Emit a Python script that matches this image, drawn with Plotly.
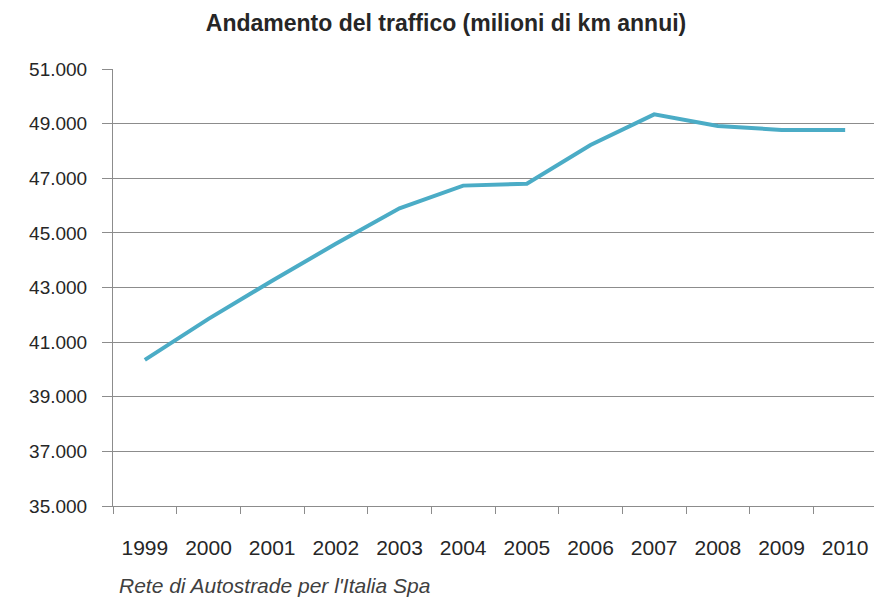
import plotly.graph_objects as go

years = ["1999", "2000", "2001", "2002", "2003", "2004", "2005", "2006", "2007", "2008", "2009", "2010"]
traffic = [40350, 41850, 43250, 44600, 45900, 46730, 46800, 48220, 49340, 48910, 48770, 48770]
y_ticks = [35000, 37000, 39000, 41000, 43000, 45000, 47000, 49000, 51000]

title_text = "Andamento del traffico (milioni di km annui)"
source_text = "Rete di Autostrade per l'Italia Spa"

# the page body adds an 8px offset; figure sized to fill the 882x601 window
W, H = 874, 593
ml, mr, mt, mb = 105, 5, 61, 95
pw, ph = W - ml - mr, H - mt - mb

fig = go.Figure()
fig.add_trace(go.Scatter(
    x=years, y=traffic, mode="lines",
    line=dict(color="#4BACC6", width=4),
    hoverinfo="x+y",
))

font_family = "Liberation Sans, Arial, sans-serif"
fig.update_layout(
    width=W, height=H,
    margin=dict(l=ml, r=mr, t=mt, b=mb, autoexpand=False),
    paper_bgcolor="white", plot_bgcolor="white",
    separators=",.",
    showlegend=False,
    title=dict(
        text="<b>" + title_text + "</b>",
        x=438 / W, xanchor="center", xref="container",
        y=1 - 15 / H, yanchor="middle", yref="container",
        font=dict(family=font_family, size=23, color="#262626"),
    ),
    xaxis=dict(
        type="category",
        range=[-0.5, len(years) - 0.5],
        tickson="boundaries",
        ticks="outside", ticklen=7, tickcolor="#8c8c8c", tickwidth=1,
        showline=True, linecolor="#8c8c8c", linewidth=1,
        showgrid=False, zeroline=False,
        tickfont=dict(family=font_family, size=21, color="#262626"),
        ticklabelstandoff=23,
        automargin=False,
    ),
    yaxis=dict(
        range=[35000, 51000],
        tickvals=y_ticks,
        tickformat=",d",
        ticks="outside", ticklen=10, tickcolor="#8c8c8c", tickwidth=1,
        showline=True, linecolor="#8c8c8c", linewidth=1,
        showgrid=True, gridcolor="#8c8c8c", gridwidth=1,
        zeroline=False,
        tickfont=dict(family=font_family, size=19, color="#262626"),
        ticklabelstandoff=11,
        automargin=False,
    ),
    annotations=[dict(
        text="<i>" + source_text + "</i>",
        xref="paper", yref="paper",
        x=(109 - ml) / pw, y=-(577 - (H - mb)) / ph,
        xanchor="left", yanchor="middle", showarrow=False,
        font=dict(family=font_family, size=21, color="#404040"),
    )],
)

fig.write_html("out.html")
